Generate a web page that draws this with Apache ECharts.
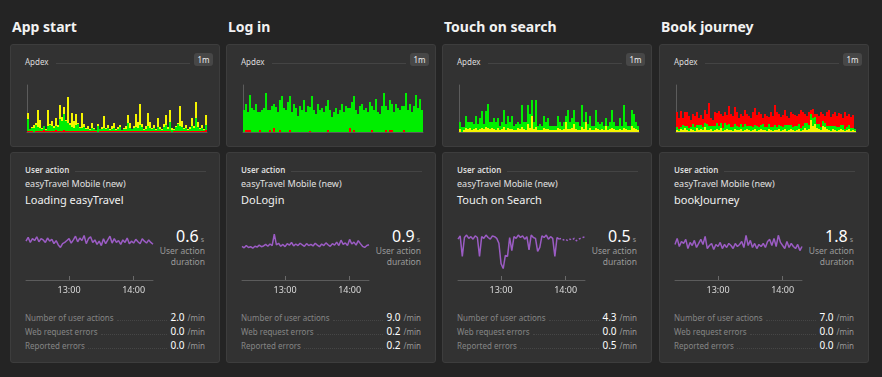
<!DOCTYPE html>
<html>
<head>
<meta charset="utf-8">
<script src="https://cdn.jsdelivr.net/npm/echarts@6/dist/echarts.min.js"></script>
<style>
	body { margin: 0; width: 882px; height: 377px; background: #242424; overflow: hidden; position: relative; font-family: 'Noto Sans', sans-serif; }
	.title { position: absolute; top: 17px; font-size: 14px; font-weight: 700; color: #f2f2f2; white-space: nowrap; }
	.card { position: absolute; width: 210px; background: #323232; border: 1px solid #3d3d3d; border-radius: 3px; box-sizing: border-box; }
	.apdex { top: 44px; height: 103px; }
	.ua { top: 152px; height: 211px; }
	.chart { position: absolute; left: 0; top: 0; }
	.small { position: absolute; left: 14px; font-size: 8px; color: #ddd; white-space: nowrap; }
	.rule { position: absolute; height: 1px; background: #444; }
	.badge { position: absolute; left: 183px; top: 8px; width: 19px; height: 13px; background: #474747; border-radius: 3px; color: #eee; font-size: 8px; line-height: 13px; text-align: center; }
	.app { position: absolute; left: 14px; top: 24px; font-size: 9px; color: #e0e0e0; }
	.action { position: absolute; left: 14px; top: 39px; font-size: 11px; color: #f0f0f0; }
	.dur { position: absolute; right: 15px; top: 72px; color: #fff; font-size: 16px; text-align: right; white-space: nowrap; }
	.dur span { font-size: 7px; color: #999; margin-left: 2px; }
	.durlab { position: absolute; right: 14px; font-size: 8.5px; color: #9a9a9a; text-align: right; }
	.stat { position: absolute; left: 14px; right: 14px; height: 12px; display: flex; align-items: flex-end; font-size: 8px; color: #858585; }
	.stat .dots { flex: 1; border-bottom: 1px dotted #464646; margin: 0 3px 2px 3px; }
	.stat .val { color: #fff; font-size: 10px; line-height: 12px; }
	.stat .unit { color: #999; font-size: 8px; margin-left: 3px; }
</style>
</head>
<body>
<script>
// column titles and texts
const columns = ['App start', 'Log in', 'Touch on search', 'Book journey'];
const actionNames = ['Loading easyTravel', 'DoLogin', 'Touch on Search', 'bookJourney'];
const durations = ['0.6', '0.9', '0.5', '1.8'];
const statLabels = ['Number of user actions', 'Web request errors', 'Reported errors'];
const statValues = [
	['2.0', '0.0', '0.0'],
	['9.0', '0.2', '0.2'],
	['4.3', '0.0', '0.5'],
	['7.0', '0.0', '0.0'],
];
const timeTicks = ['13:00', '14:00'];

// Apdex bars, one per minute (satisfied / tolerating / frustrated)
const appSat = [12,2,3,4,6,4,3,2,4,1, 5,6,5,3,4,4,12,10,16,10, 8,6,4,3,6,7,3,3,4,2, 2,1,3,2,1,6,2,2,3,2, 3,1,2,3,1,2,4,1,2,2, 8,3,2,3,4,3,6,4,1,2, 5,3,2,3,1,4,2,1,4,6, 2,9,2,1,4,7,5,4,2,3, 1,2,5,3,13,4,2,3,1,5];
const appTol = [6,0,1,3,2,17,8,1,0,1, 16,1,5,2,8,2,14,4,7,1, 26,2,14,7,11,1,1,15,3,1, 3,1,5,1,0,2,0,2,12,1, 3,1,3,5,1,2,2,0,1,3, 8,5,0,2,13,6,21,3,1,3, 13,6,1,3,1,9,2,1,3,10, 2,12,2,1,1,1,20,6,1,3, 1,2,8,2,16,5,1,3,1,10];
const appFrus = [1,1,1,0,1,1,1,1,2,1, 1,1,1,1,2,1,1,1,2,1, 1,1,1,1,1,1,1,1,1,1, 1,1,1,1,1,0,1,1,1,1, 1,1,1,1,1,1,1,1,1,1, 1,1,1,1,1,1,1,1,1,1, 1,1,1,1,1,1,1,1,1,1, 1,1,0,1,1,1,1,1,1,1, 1,1,1,1,1,1,1,1,1,2];

const loginSat = [22,26,18,35,24,22,28,20, 18,22,24,39,22,20,26,24, 25,20,30,36,24,22,30,34, 20,28,24,16,26,22,32,20, 26,24,36,22,18,28,22,24, 20,26,30,22,15,20,24,18, 22,28,20,26,24,20,30,34, 22,18,26,28,22,24,20,30, 24,22,33,20,18,26,39,24, 22,30,26,20,28,24,22,26, 24,39,22,28,20,26,37,24, 33,22];
const loginFrus = [0,2,2,2,0,0,0,0,2,0, 0,0,0,2,0,4,0,0,2,0, 0,0,0,2,0,0,0,0,0,0, 0,0,0,1,0,0,0,0,0,0, 0,0,2,0,0,0,0,0,0,0, 0,0,0,4,0,2,0,0,0,0, 0,0,0,0,2,0,0,0,0,0, 0,2,0,2,2,0,0,0,0,0, 2,0,0,0,0,0,0,0,0,0];

const touchTol = [3,0,2,4,3,4,2,3,4,2, 3,4,3,5,4,3,4,3,2,4, 2,3,5,2,4,3,3,2,2,4, 3,5,3,2,8,4,16,3,5,2, 2,2,4,3,3,2,2,2,2,4, 3,2,3,10,3,3,4,8,3,2, 2,5,3,10,2,4,2,2,4,3, 2,3,2,6,2,3,4,3,2,2, 3,2,4,3,2,2,6,4,3,2];
const touchSat = [7,5,3,12,7,6,8,5,12,6, 11,17,5,16,24,7,6,11,8,10, 4,7,17,6,12,7,13,4,6,6, 5,22,7,8,19,14,16,7,27,4, 6,4,12,7,11,4,4,4,4,12, 7,4,7,6,19,7,10,14,7,8, 4,22,7,10,6,12,4,4,18,7, 6,7,4,8,4,7,18,7,4,4, 11,4,23,7,4,4,16,14,7,4];

const bookTol = [2,1,3,2,4,2,1,3,2,1, 4,2,3,2,5,2,2,3,1,2, 3,2,4,1,2,3,2,2,1,3, 2,2,3,1,2,3,2,1,2,3, 1,2,3,2,2,1,3,2,1,2, 2,3,1,2,3,1,2,3,2,1, 2,3,1,2,4,2,3,12,6,8, 4,3,2,6,5,3,2,1,3,2, 1,2,3,2,1,2,3,1,2,1];
const bookSat = [3,2,2,5,2,4,3,2,6,4, 3,5,4,3,4,6,4,3,5,4, 6,4,5,3,7,4,6,3,4,5, 4,3,5,4,6,3,4,5,3,4, 5,3,4,6,3,4,5,3,4,5, 3,4,5,3,4,6,5,4,3,5, 4,5,3,4,5,7,4,6,8,7, 4,5,3,5,4,3,4,5,3,4, 4,3,4,5,2,3,4,3,2,2];
const bookFrus = [15,11,16,7,14,14,12,7,10,11, 13,7,10,8,13,10,23,8,6,14, 10,15,9,12,11,10,18,13,11,17, 14,9,10,11,14,12,10,8,15,17, 11,15,11,6,13,11,7,15,11,20, 15,11,9,12,15,9,7,13,13,11, 10,10,18,14,9,7,13,4,9,3, 10,8,15,7,7,14,16,9,12,14, 11,14,11,7,17,11,11,11,13,0];

// User action duration (s), one point every 2 minutes from 12:20
const appDuration = [0.62,0.68,0.60,0.66,0.63,0.69,0.61,0.66,0.64,0.60, 0.67,0.62,0.65,0.58,0.63,0.56,0.52,0.58,0.60,0.63, 0.66,0.59,0.64,0.70,0.61,0.67,0.63,0.71,0.58,0.66, 0.69,0.60,0.64,0.57,0.62,0.55,0.66,0.58,0.64,0.70, 0.59,0.66,0.60,0.63,0.57,0.64,0.60,0.67,0.58,0.62, 0.59,0.65,0.61,0.58,0.66,0.62,0.59,0.64,0.60,0.57];
const loginDuration = [0.88,0.84,0.90,0.85,0.87,0.83,0.88,0.86,0.91,0.87, 0.89,0.93,0.88,0.94,0.90,1.20,0.92,0.96,0.88,0.93, 0.87,0.95,0.91,0.98,0.89,0.94,0.90,0.96,0.92,0.88, 0.95,0.90,0.93,0.89,0.96,0.91,0.87,0.94,0.90,0.97, 0.92,0.88,0.95,0.91,0.99,0.90,1.04,0.93,0.97,0.90, 1.06,0.94,0.99,0.91,1.03,0.95,0.88,0.85,0.90,0.92];
const touchDuration = [0.50,0.54,0.29,0.52,0.55,0.51,0.53,0.50,0.54,0.52, 0.29,0.53,0.51,0.55,0.52,0.50,0.54,0.53,0.51,0.45, 0.20,0.14,0.30,0.29,0.52,0.36,0.53,0.51,0.55,0.52, 0.54,0.50,0.53,0.37,0.55,0.52,0.51,0.35,0.40,0.54, 0.52,0.55,0.50,0.53,0.51,0.29,0.52,0.50,0.51,0.49, 0.50,0.48,0.50,0.49,0.51,0.48,0.50,0.51,0.52,0.53];
const bookDuration = [1.75,2.05,1.65,1.90,1.80,2.00,1.55,1.85,1.70,1.95, 1.60,1.80,2.00,1.75,2.15,1.55,1.70,1.80,1.50,1.75, 1.65,1.85,1.55,1.75,1.60,1.80,1.70,1.55,1.80,1.65, 1.75,1.90,1.60,2.20,1.70,1.95,1.60,1.80,1.55,1.75, 1.65,1.80,1.60,1.90,2.00,1.70,2.05,1.65,2.20,1.85, 1.70,1.55,1.90,1.60,1.80,1.65,1.55,1.75,1.45,1.65];

const GREEN = '#00ee00', YELLOW = '#f5f500', RED = '#ff0000', PURPLE = '#9b5cc4';

// stacking order from bottom to top, as in the screenshot
const apdexSeries = [
	[{ data: appFrus, color: RED }, { data: appSat, color: GREEN }, { data: appTol, color: YELLOW }],
	[{ data: loginFrus, color: RED }, { data: loginSat, color: GREEN }],
	[{ data: touchTol, color: YELLOW }, { data: touchSat, color: GREEN }],
	[{ data: bookTol, color: YELLOW }, { data: bookSat, color: GREEN }, { data: bookFrus, color: RED }],
];
const durationSeries = [appDuration, loginDuration, touchDuration, bookDuration];
const durationMax = [1.07, 1.75, 0.82, 3.3];
const dottedFrom = [null, null, 47, null]; // touch on search has sparse data at the end

const colLeft = [10, 226, 442, 659];

const minutes = appSat.map((v, i) => i);
const times = appDuration.map((v, i) => {
	const m = 12 * 60 + 20 + i * 2;
	return `${Math.floor(m / 60)}:${(m % 60).toString().padStart(2, '0')}`;
});

function el(cls, parent, html) {
	const d = document.createElement('div');
	d.className = cls;
	if (html !== undefined) d.innerHTML = html;
	parent.appendChild(d);
	return d;
}

function renderApdex(div, series) {
	const chart = echarts.init(div);
	chart.setOption({
		animation: false,
		grid: { left: 16, top: 40, width: 180, height: 47 },
		xAxis: {
			type: 'category',
			data: minutes,
			axisLine: { lineStyle: { color: '#5c5c5c' } },
			axisTick: { show: false },
			axisLabel: { show: false },
		},
		yAxis: {
			type: 'value',
			min: 0,
			max: 47,
			axisLine: { show: true, lineStyle: { color: '#5c5c5c' } },
			axisLabel: { show: false },
			splitLine: { show: false },
		},
		series: series.map((s) => ({
			type: 'bar',
			stack: 'apdex',
			data: s.data,
			barCategoryGap: '0%',
			silent: true,
			itemStyle: { color: s.color },
		})),
	});
}

function renderDuration(div, values, yMax, dotFrom) {
	const chart = echarts.init(div);
	const isTick = (i, v) => timeTicks.includes(v);
	const series = [];
	if (dotFrom === null) {
		series.push({ type: 'line', data: values, symbol: 'none', lineStyle: { color: PURPLE, width: 1.5 } });
	} else {
		series.push({ type: 'line', data: values.map((v, i) => (i <= dotFrom ? v : null)), symbol: 'none', lineStyle: { color: PURPLE, width: 1.5 } });
		series.push({ type: 'line', data: values.map((v, i) => (i >= dotFrom ? v : null)), symbol: 'none', lineStyle: { color: PURPLE, width: 1.5, type: [2, 2] } });
	}
	chart.setOption({
		animation: false,
		grid: { left: 15, top: 60, width: 127, height: 67 },
		xAxis: {
			type: 'category',
			data: times,
			boundaryGap: false,
			axisLine: { lineStyle: { color: '#5c5c5c' } },
			axisTick: { inside: true, length: 4, interval: isTick, lineStyle: { color: '#6a6a6a' } },
			axisLabel: { interval: isTick, color: '#dcdcdc', fontSize: 9, margin: 6, fontFamily: 'Noto Sans' },
		},
		yAxis: { type: 'value', min: 0, max: yMax, show: false },
		series: series.map((s) => Object.assign(s, { silent: true })),
	});
}

columns.forEach((name, c) => {
	const left = colLeft[c];
	const t = el('title', document.body, name);
	t.style.left = left + 2 + 'px';

	// Apdex card
	const ap = el('card apdex', document.body);
	ap.style.left = left + 'px';
	const apLab = el('small', ap, 'Apdex');
	apLab.style.top = '11px';
	const apRule = el('rule', ap);
	apRule.style.cssText = 'left:45px;width:134px;top:18px;';
	el('badge', ap, '1m');
	const apChart = el('chart', ap);
	apChart.style.width = '208px';
	apChart.style.height = '101px';

	// User action card
	const ua = el('card ua', document.body);
	ua.style.left = left + 'px';
	const uaLab = el('small', ua, 'User action');
	uaLab.style.top = '11px';
	uaLab.style.fontWeight = '600';
	const uaRule = el('rule', ua);
	uaRule.style.cssText = 'left:64px;width:131px;top:18px;';
	el('app', ua, 'easyTravel Mobile (new)');
	el('action', ua, actionNames[c]);
	el('dur', ua, `${durations[c]}<span>s</span>`);
	const d1 = el('durlab', ua, 'User action');
	d1.style.top = '92px';
	const d2 = el('durlab', ua, 'duration');
	d2.style.top = '103px';
	const uaChart = el('chart', ua);
	uaChart.style.width = '208px';
	uaChart.style.height = '150px';

	statLabels.forEach((lab, r) => {
		const row = el('stat', ua, `<span>${lab}</span><span class="dots"></span><span class="val">${statValues[c][r]}</span><span class="unit">/min</span>`);
		row.style.top = 158 + r * 14 + 'px';
	});

	renderApdex(apChart, apdexSeries[c]);
	renderDuration(uaChart, durationSeries[c], durationMax[c], dottedFrom[c]);
});
</script>
</body>
</html>
